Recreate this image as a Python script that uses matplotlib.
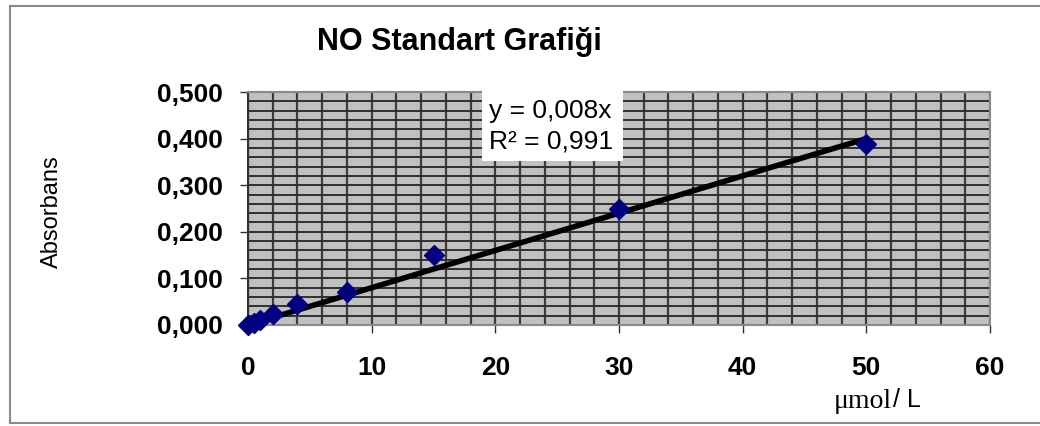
import matplotlib
matplotlib.use("Agg")
import matplotlib.pyplot as plt
from matplotlib.lines import Line2D
from matplotlib.patches import Rectangle
import numpy as np

conc = [0, 0.5, 1, 2, 4, 8, 15, 30, 50]
absorb = [0.0, 0.005, 0.011, 0.023, 0.046, 0.071, 0.150, 0.250, 0.388]
slope = 0.008
xticks = [0, 10, 20, 30, 40, 50, 60]
yticks = [0.0, 0.1, 0.2, 0.3, 0.4, 0.5]
ytick_labels = ["0,000", "0,100", "0,200", "0,300", "0,400", "0,500"]
title = "NO Standart Grafiği"
ylabel = "Absorbans"
eq_lines = ["y = 0,008x", "R² = 0,991"]

plt.rcParams['font.family'] = ['Liberation Sans', 'DejaVu Sans']

W, H = 1040, 426
fig = plt.figure(figsize=(W / 100, H / 100), dpi=100)
ax = fig.add_axes([248 / W, 1 - 325 / H, (990 - 248) / W, (325 - 92) / H])
ax.set_facecolor('#C0C0C0')
ax.set_xlim(0, 60)
ax.set_ylim(0, 0.5)

# grid
for gx in np.arange(0, 60.01, 2):
    ax.axvline(gx, color='#3c3c3c', lw=1.6, zorder=1)
for gy in np.arange(0, 0.501, 0.02):
    ax.axhline(gy, color='#303030', lw=1.4, zorder=1)

ax.set_xticks(xticks)
ax.set_xticklabels([str(v) for v in xticks])
ax.set_yticks(yticks)
ax.set_yticklabels(ytick_labels)
ax.tick_params(axis='both', direction='out', length=6, width=1, colors='#333333',
               labelcolor='black', labelsize=19)
ax.tick_params(axis='x', pad=16)
ax.tick_params(axis='y', pad=12)
for lab in ax.get_xticklabels() + ax.get_yticklabels():
    lab.set_fontweight('bold')

for s in ['top', 'right', 'bottom']:
    ax.spines[s].set_color('#8a8a8a')
    ax.spines[s].set_linewidth(1.5)
ax.spines['left'].set_color('#333333')
ax.spines['left'].set_linewidth(1.5)

# trendline
xl = np.array([0, max(conc)])
ax.plot(xl, slope * xl, color='black', lw=4, zorder=3, solid_capstyle='butt')
ax.plot(conc, absorb, linestyle='none', marker='D', markersize=10.5,
        color='#000080', zorder=4, clip_on=False)

# equation box
fig.add_artist(Rectangle((482 / W, 1 - 161 / H), (623 - 482) / W, (161 - 90) / H,
                         transform=fig.transFigure, fc='white', ec='none', zorder=5))
fig.text(489 / W, 1 - 111 / H, eq_lines[0], ha='left', va='center', fontsize=19, zorder=6)
fig.text(489 / W, 1 - 141 / H, eq_lines[1], ha='left', va='center', fontsize=19, zorder=6)

fig.text(459 / W, 1 - 42 / H, title, ha='center', va='center',
         fontsize=22, fontweight='bold')
fig.text(52 / W, 1 - 212 / H, ylabel, rotation=90, ha='center', va='center',
         fontsize=17)
fig.text(892 / W, 1 - 401 / H, "μmol", ha='right', va='center', fontsize=20,
         family=['Liberation Serif', 'DejaVu Serif'])
fig.text(893 / W, 1 - 400 / H, "/ L", ha='left', va='center', fontsize=18)

# outer frame
fig.add_artist(Line2D([10 / W, 10 / W], [1 - 6 / H, 1 - 423 / H], color='#8a8a8a', lw=1.5))
fig.add_artist(Line2D([10 / W, 1], [1 - 6 / H, 1 - 6 / H], color='#8a8a8a', lw=1.5))
fig.add_artist(Line2D([10 / W, 1], [1 - 423 / H, 1 - 423 / H], color='#8a8a8a', lw=1.5))

fig.savefig('out.png', dpi=100, facecolor='white')
